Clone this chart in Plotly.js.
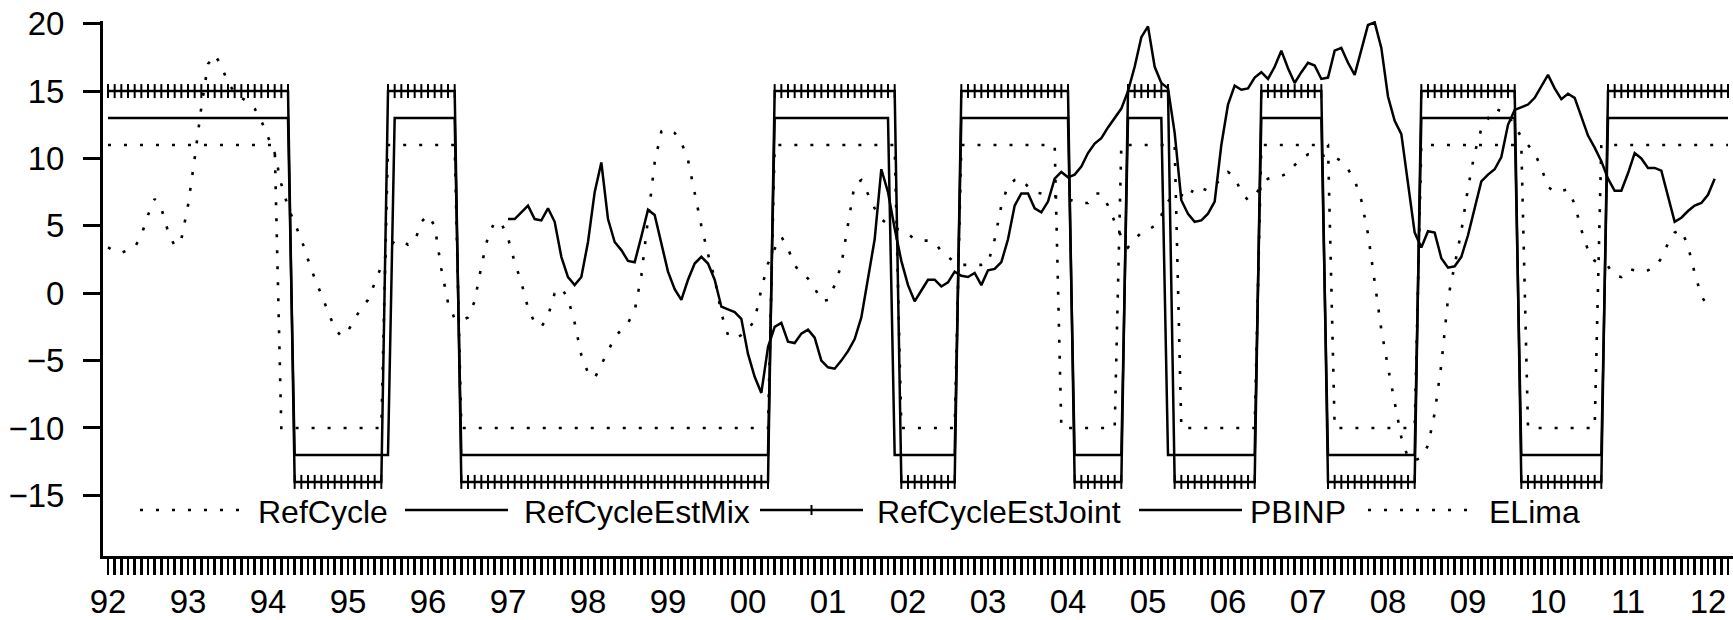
<!DOCTYPE html>
<html>
<head>
<meta charset="utf-8">
<script src="https://cdn.plot.ly/plotly-3.0.1.min.js"></script>
<style>
  html, body { margin: 0; padding: 0; background: #fff; }
  #chart { width: 1733px; height: 620px; }
</style>
</head>
<body>
<div id="chart"></div>
<script>
// ---- Data (monthly, 1992M1 onwards) ----
const seriesNames = ["RefCycle", "RefCycleEstMix", "RefCycleEstJoint", "PBINP", "ELima"];
const yearLabels = ["92","93","94","95","96","97","98","99","00","01","02","03","04","05","06","07","08","09","10","11","12"];

// RefCycle (1992M1 - 2012M4)
const refCycle = [
  11,11,11,11,11,11,11,11,11,11,11,11,
  11,11,11,11,11,11,11,11,11,11,11,11,
  11,11,-10,-10,-10,-10,-10,-10,-10,-10,-10,-10,
  -10,-10,-10,-10,-10,-10,11,11,11,11,11,11,
  11,11,11,11,11,-10,-10,-10,-10,-10,-10,-10,
  -10,-10,-10,-10,-10,-10,-10,-10,-10,-10,-10,-10,
  -10,-10,-10,-10,-10,-10,-10,-10,-10,-10,-10,-10,
  -10,-10,-10,-10,-10,-10,-10,-10,-10,-10,-10,-10,
  -10,-10,-10,-10,11,11,11,11,11,11,11,11,
  11,11,11,11,11,11,11,11,11,11,11,-10,
  -10,-10,-10,-10,-10,-10,-10,-10,11,11,11,11,
  11,11,11,11,11,11,11,11,11,11,11,-10,
  -10,-10,-10,-10,-10,-10,-10,-10,11,11,11,11,
  11,11,11,11,11,-10,-10,-10,-10,-10,-10,-10,
  -10,-10,-10,-10,-10,11,11,11,11,11,11,11,
  11,11,11,11,-10,-10,-10,-10,-10,-10,-10,-10,
  -10,-10,-10,-10,-10,11,11,11,11,11,11,11,
  11,11,11,11,11,11,11,11,11,-10,-10,-10,
  -10,-10,-10,-10,-10,-10,-10,-10,11,11,11,11,
  11,11,11,11,11,11,11,11,11,11,11,11,
  11,11,11,11
];

// RefCycleEstMix (1992M1 - 2012M4)
const refCycleEstMix = [
  13,13,13,13,13,13,13,13,13,13,13,13,
  13,13,13,13,13,13,13,13,13,13,13,13,
  13,13,13,13,-12,-12,-12,-12,-12,-12,-12,-12,
  -12,-12,-12,-12,-12,-12,-12,13,13,13,13,13,
  13,13,13,13,13,-12,-12,-12,-12,-12,-12,-12,
  -12,-12,-12,-12,-12,-12,-12,-12,-12,-12,-12,-12,
  -12,-12,-12,-12,-12,-12,-12,-12,-12,-12,-12,-12,
  -12,-12,-12,-12,-12,-12,-12,-12,-12,-12,-12,-12,
  -12,-12,-12,-12,13,13,13,13,13,13,13,13,
  13,13,13,13,13,13,13,13,13,13,-12,-12,
  -12,-12,-12,-12,-12,-12,-12,-12,13,13,13,13,
  13,13,13,13,13,13,13,13,13,13,13,13,
  13,-12,-12,-12,-12,-12,-12,-12,-12,13,13,13,
  13,13,13,-12,-12,-12,-12,-12,-12,-12,-12,-12,
  -12,-12,-12,-12,-12,13,13,13,13,13,13,13,
  13,13,13,-12,-12,-12,-12,-12,-12,-12,-12,-12,
  -12,-12,-12,-12,-12,13,13,13,13,13,13,13,
  13,13,13,13,13,13,13,13,-12,-12,-12,-12,
  -12,-12,-12,-12,-12,-12,-12,-12,-12,13,13,13,
  13,13,13,13,13,13,13,13,13,13,13,13,
  13,13,13,13
];

// RefCycleEstJoint (1992M1 - 2012M4)
const refCycleEstJoint = [
  15,15,15,15,15,15,15,15,15,15,15,15,
  15,15,15,15,15,15,15,15,15,15,15,15,
  15,15,15,15,-14,-14,-14,-14,-14,-14,-14,-14,
  -14,-14,-14,-14,-14,-14,15,15,15,15,15,15,
  15,15,15,15,15,-14,-14,-14,-14,-14,-14,-14,
  -14,-14,-14,-14,-14,-14,-14,-14,-14,-14,-14,-14,
  -14,-14,-14,-14,-14,-14,-14,-14,-14,-14,-14,-14,
  -14,-14,-14,-14,-14,-14,-14,-14,-14,-14,-14,-14,
  -14,-14,-14,-14,15,15,15,15,15,15,15,15,
  15,15,15,15,15,15,15,15,15,15,15,-14,
  -14,-14,-14,-14,-14,-14,-14,-14,15,15,15,15,
  15,15,15,15,15,15,15,15,15,15,15,15,
  15,-14,-14,-14,-14,-14,-14,-14,-14,15,15,15,
  15,15,15,15,-14,-14,-14,-14,-14,-14,-14,-14,
  -14,-14,-14,-14,-14,15,15,15,15,15,15,15,
  15,15,15,-14,-14,-14,-14,-14,-14,-14,-14,-14,
  -14,-14,-14,-14,-14,15,15,15,15,15,15,15,
  15,15,15,15,15,15,15,15,-14,-14,-14,-14,
  -14,-14,-14,-14,-14,-14,-14,-14,-14,15,15,15,
  15,15,15,15,15,15,15,15,15,15,15,15,
  15,15,15,15
];

// PBINP (1997M1 - 2012M2)
const pbinpStart = [1997, 1];
const pbinp = [
  5.5, 5.5, 6.0, 6.5, 5.5, 5.4, 6.3, 5.3, 2.7, 1.2, 0.6, 1.2,
  3.8, 7.5, 9.7, 5.5, 3.8, 3.2, 2.4, 2.3, 4.2, 6.2, 5.8, 3.6,
  1.6, 0.3, -0.5, 1.0, 2.2, 2.7, 2.2, 1.0, -1.0, -1.2, -1.4, -1.9,
  -4.5, -6.2, -7.4, -4.0, -2.5, -2.2, -3.6, -3.7, -3.0, -2.7, -3.3, -5.0,
  -5.5, -5.6, -5.0, -4.3, -3.4, -1.8, 1.0, 4.0, 9.2, 7.5, 4.8, 2.4,
  0.6, -0.6, 0.2, 1.0, 1.0, 0.5, 0.8, 1.6, 1.3, 1.2, 1.5, 0.6,
  1.7, 1.8, 2.3, 4.0, 6.5, 7.4, 7.4, 6.3, 6.0, 6.8, 8.5, 9.0,
  8.6, 8.8, 9.4, 10.4, 11.1, 11.5, 12.3, 13.0, 13.7, 15.0, 16.8, 19.0,
  19.8, 16.8, 15.6, 15.2, 11.9, 6.9, 5.9, 5.3, 5.4, 5.9, 6.8, 11.0,
  14.0, 15.4, 15.1, 15.2, 16.0, 16.4, 15.9, 16.8, 18.0, 16.7, 15.6, 16.4,
  17.1, 16.9, 15.9, 16.0, 18.0, 18.2, 17.1, 16.2, 18.0, 19.9, 20.1, 18.2,
  14.6, 12.8, 11.8, 8.0, 4.5, 3.4, 4.6, 4.5, 2.6, 1.9, 2.0, 2.7,
  4.3, 6.3, 8.3, 8.8, 9.2, 10.1, 12.5, 13.6, 13.8, 14.0, 14.5, 15.3,
  16.2, 15.2, 14.4, 14.8, 14.5, 13.1, 11.7, 10.8, 9.8, 8.5, 7.6, 7.6,
  8.9, 10.4, 10.0, 9.3, 9.3, 9.1, 7.1, 5.3, 5.6, 6.1, 6.5, 6.7,
  7.3, 8.5
];

// ELima (1992M1 - 2012M1)
const elima = [
  3.4, 3.1, 3.0, 3.2, 3.4, 4.3, 5.8, 7.0, 6.3, 4.6, 3.5, 4.0,
  6.5, 10.0, 13.8, 17.0, 17.7, 16.9, 15.6, 14.9, 14.5, 14.2, 13.7, 12.8,
  11.6, 10.4, 8.1, 6.4, 5.2, 4.0, 2.5, 1.1, -0.1, -1.4, -2.6, -3.2,
  -2.8, -1.9, -1.1, -0.5, 0.8, 2.0, 3.2, 3.9, 3.9, 3.6, 3.8, 5.3,
  5.8, 5.0, 1.8, -0.7, -1.9, -2.0, -1.8, -0.6, 2.0, 4.2, 5.3, 5.2,
  4.1, 2.3, 0.8, -1.1, -2.2, -2.5, -1.7, 0.0, 0.4, -0.4, -2.2, -4.6,
  -5.9, -6.3, -5.3, -4.3, -3.3, -2.7, -2.2, -1.3, 1.3, 5.5, 9.7, 12.0,
  12.2, 11.9, 11.2, 9.9, 7.5, 5.0, 2.9, 1.1, -1.5, -3.1, -3.4, -3.1,
  -2.7, -2.0, 0.3, 2.2, 3.3, 4.2, 3.3, 2.1, 1.4, 1.1, 0.4, -0.6,
  -0.5, 0.6, 2.1, 5.0, 8.1, 8.4, 7.3, 6.3, 5.5, 5.1, 4.8, 4.7,
  4.4, 4.0, 3.9, 3.9, 3.8, 3.1, 2.7, 2.3, 2.1, 2.1, 2.1, 2.1,
  2.2, 4.0, 6.5, 8.0, 8.4, 8.5, 7.9, 7.5, 7.4, 7.3, 7.2, 7.1,
  7.0, 6.8, 6.7, 6.7, 7.4, 7.4, 6.5, 5.3, 4.2, 3.4, 4.0, 4.5,
  4.7, 5.0, 5.8, 6.8, 7.4, 7.3, 7.0, 7.9, 7.8, 7.6, 8.0, 8.5,
  9.0, 8.6, 7.5, 6.9, 7.2, 8.0, 8.5, 8.6, 8.7, 8.9, 9.5, 10.0,
  10.3, 10.3, 10.2, 10.2, 10.1, 9.8, 9.2, 8.4, 6.9, 4.4, 0.8, -2.7,
  -5.5, -8.2, -10.7, -12.2, -12.4, -12.2, -11.3, -8.9, -5.3, -0.4, 2.0, 4.6,
  7.8, 10.4, 12.2, 13.0, 13.7, 13.5, 13.2, 12.4, 11.6, 11.0, 10.4, 9.3,
  7.9, 7.5, 7.6, 7.7, 6.6, 4.7, 3.2, 2.4, 2.2, 2.0, 1.3, 1.2,
  1.8, 1.7, 1.6, 1.7, 1.9, 2.6, 3.7, 4.5, 4.7, 3.5, 1.5, -0.2,
  -1.0
];
const seriesStart = [1992, 1];

// ---- Helpers: monthly positions on a numeric year axis ----
function monthX(start, n) {
  const out = [];
  for (let i = 0; i < n; i++) out.push(start[0] + (start[1] - 1 + i) / 12);
  return out;
}

const FONT = "Liberation Sans, Arial, Helvetica, sans-serif";
const dotDash = "3px,13px";

const traces = [
  { name: seriesNames[4], x: monthX(seriesStart, elima.length), y: elima,
    mode: "lines", line: { color: "#000", width: 2.6, dash: dotDash } },
  { name: seriesNames[0], x: monthX(seriesStart, refCycle.length), y: refCycle,
    mode: "lines", line: { color: "#000", width: 2.6, dash: dotDash } },
  { name: seriesNames[1], x: monthX(seriesStart, refCycleEstMix.length), y: refCycleEstMix,
    mode: "lines", line: { color: "#000", width: 2.5 } },
  { name: seriesNames[2], x: monthX(seriesStart, refCycleEstJoint.length), y: refCycleEstJoint,
    mode: "lines+markers", line: { color: "#000", width: 2.5 },
    marker: { symbol: "line-ns", size: 10, color: "#000", line: { color: "#000", width: 2 } } },
  { name: seriesNames[3], x: monthX(pbinpStart, pbinp.length), y: pbinp,
    mode: "lines", line: { color: "#000", width: 2.5 } }
];

// ---- Axis ticks ----
const yearTicks = yearLabels.map((_, i) => 1992 + i);
const monthTicks = [];
for (let i = 0; i <= 243; i++) monthTicks.push(1992 + i / 12);

// ---- Custom legend (long line samples as in the original) ----
const L = 103, W = 1630, T = 21, H = 535;
const px = v => (v - L) / W;
const py = v => (T + H - v) / H;
const legendLineY = 510;
const legendTextY = 512;
const legendItems = [
  { name: seriesNames[0], dash: "dot", x0: 140, x1: 241, tx: 256 },
  { name: seriesNames[1], dash: "solid", x0: 405, x1: 508, tx: 522 },
  { name: seriesNames[2], dash: "solid", x0: 760, x1: 863, tx: 875, plus: true },
  { name: seriesNames[3], dash: "solid", x0: 1139, x1: 1242, tx: 1248 },
  { name: seriesNames[4], dash: "dot", x0: 1368, x1: 1472, tx: 1487 }
];
const shapes = [];
const annotations = [];
legendItems.forEach(it => {
  shapes.push({ type: "line", xref: "paper", yref: "paper",
    x0: px(it.x0), x1: px(it.x1), y0: py(legendLineY), y1: py(legendLineY),
    line: { color: "#000", width: it.dash === "dot" ? 2.6 : 2.5, dash: it.dash === "dot" ? dotDash : "solid" } });
  if (it.plus) {
    const cx = (it.x0 + it.x1) / 2;
    shapes.push({ type: "line", xref: "paper", yref: "paper",
      x0: px(cx), x1: px(cx), y0: py(legendLineY - 5), y1: py(legendLineY + 5),
      line: { color: "#000", width: 2 } });
  }
  annotations.push({ xref: "paper", yref: "paper", x: px(it.tx), y: py(legendTextY),
    xanchor: "left", yanchor: "middle", showarrow: false, text: it.name,
    font: { family: FONT, size: 32, color: "#000" } });
});

const layout = {
  width: 1733, height: 620,
  margin: { l: L, r: 0, t: T, b: 620 - T - H },
  paper_bgcolor: "#fff", plot_bgcolor: "#fff",
  showlegend: false,
  font: { family: FONT, size: 33, color: "#000" },
  xaxis: {
    range: [1992 - 5 / 80, 1992 + 1630 / 80 - 5 / 80],
    tickmode: "array", tickvals: yearTicks, ticktext: yearLabels,
    ticks: "outside", ticklen: 16, tickwidth: 2.5, tickcolor: "#000",
    minor: { tickmode: "array", tickvals: monthTicks, ticks: "outside", ticklen: 16, tickwidth: 2.5, tickcolor: "#000", showgrid: false },
    showline: true, linewidth: 3, linecolor: "#000",
    showgrid: false, zeroline: false,
    tickfont: { family: FONT, size: 33, color: "#000" },
    ticklabelstandoff: -2
  },
  yaxis: {
    range: [-19.5, 20.2],
    tickmode: "array", tickvals: [-15, -10, -5, 0, 5, 10, 15, 20],
    ticks: "outside", ticklen: 17, tickwidth: 3, tickcolor: "#000",
    showline: true, linewidth: 3, linecolor: "#000",
    showgrid: false, zeroline: false,
    tickfont: { family: FONT, size: 33, color: "#000" },
    ticklabelstandoff: 12
  },
  shapes: shapes,
  annotations: annotations
};

Plotly.newPlot("chart", traces, layout, { staticPlot: true, displayModeBar: false });
</script>
</body>
</html>
